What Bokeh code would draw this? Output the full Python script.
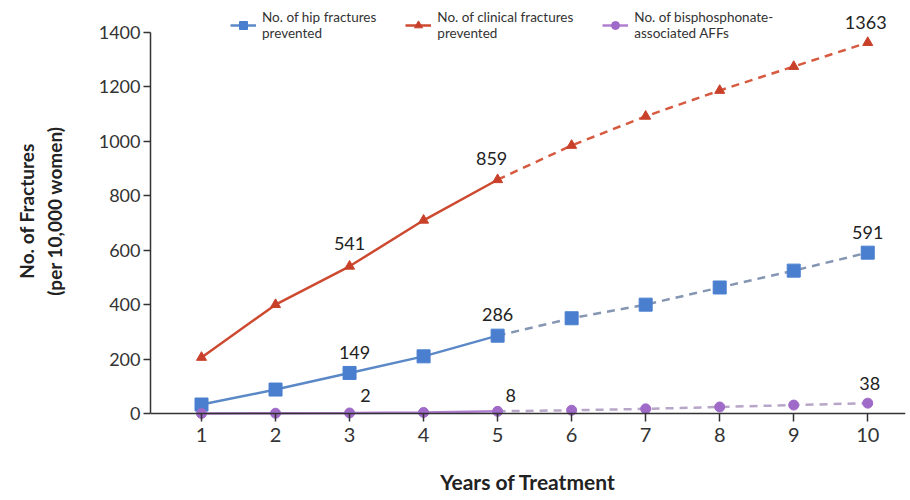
from bokeh.plotting import figure
from bokeh.models import Range1d, FixedTicker, Legend, LegendItem, ColumnDataSource, LabelSet, Span
from bokeh.core.properties import value
from bokeh.embed import file_html
from bokeh.resources import INLINE

years = [1, 2, 3, 4, 5, 6, 7, 8, 9, 10]
hip = [33, 88, 149, 210, 286, 350, 400, 463, 525, 591]
clinical = [206, 400, 541, 710, 859, 985, 1092, 1187, 1275, 1363]
aff = [0, 1, 2, 4, 8, 12, 17, 24, 31, 38]

label_x = [3, 5, 10, 3, 5, 10, 3, 5, 10]
label_y = [541, 859, 1363, 149, 286, 591, 2, 8, 38]
label_text = ["541", "859", "1363", "149", "286", "591", "2", "8", "38"]
y_ticks = [0, 200, 400, 600, 800, 1000, 1200, 1400]

# styling offsets for labels (screen px)
lx_off = [0, -6, -2, 5, 0, 0, 16, 13, 2]
ly_off = [23, 21, 20, 20, 21, 20, 17, 16, 20]

FONT = "Lato"

p = figure(width=910, height=500, output_backend="svg", toolbar_location=None,
           x_range=Range1d(0.311, 10.51), y_range=Range1d(-29.4, 1517.6),
           min_border_left=150, min_border_right=5, min_border_top=0, min_border_bottom=79)
p.outline_line_color = None
p.grid.visible = False
p.background_fill_color = "white"

# x axis line at zero
p.add_layout(Span(location=0, dimension="width", line_color="#333333", line_width=1.5))

n = 5
blue_solid = p.line(years[:n], hip[:n], line_color="#5b88c6", line_width=2.5)
p.line(years[n-1:], hip[n-1:], line_color="#8596b2", line_width=2.5, line_dash="8 6")
red_solid = p.line(years[:n], clinical[:n], line_color="#cd4a30", line_width=2.5)
p.line(years[n-1:], clinical[n-1:], line_color="#d65a40", line_width=2.5, line_dash="8 6")
pur_solid = p.line(years[:n], aff[:n], line_color="#b07fd0", line_width=2.5)
p.line(years[n-1:], aff[n-1:], line_color="#b8a6c8", line_width=2.5, line_dash="8 6")

blue_m = p.scatter(years, hip, marker="square", size=13, fill_color="#4a7fcf", line_color="#4a7fcf")
red_m = p.scatter(years, clinical, marker="triangle", size=10, fill_color="#c9402a", line_color="#c9402a")
pur_m = p.scatter(years, aff, marker="circle", size=10, fill_color="#a06ac8", line_color="#a06ac8")

src = ColumnDataSource(dict(x=label_x, y=label_y, t=label_text, xo=lx_off, yo=ly_off))
labels = LabelSet(x="x", y="y", text="t", x_offset="xo", y_offset="yo", source=src,
                  text_align="center", text_baseline="middle", text_font=value(FONT),
                  text_font_size=value("18px"), text_color=value("#222222"))
p.add_layout(labels)

# axes
xa = p.xaxis[0]
xa.ticker = FixedTicker(ticks=years)
xa.axis_line_color = None
xa.major_tick_out = 0
xa.major_tick_in = 8
xa.minor_tick_line_color = None
xa.major_tick_line_color = "#333333"
xa.major_tick_line_width = 1.5
xa.major_label_text_font = FONT
xa.major_label_text_font_size = "20px"
xa.major_label_text_color = "#333333"
xa.major_label_standoff = 6
xa.axis_label = "Years of Treatment"
xa.axis_label_text_font = FONT
xa.axis_label_text_font_style = "bold"
xa.axis_label_text_font_size = "21px"
xa.axis_label_text_color = "#222222"
xa.axis_label_standoff = 24

ya = p.yaxis[0]
ya.ticker = FixedTicker(ticks=y_ticks)
ya.bounds = (0, 1400)
ya.axis_line_color = "#333333"
ya.axis_line_width = 1.5
ya.major_tick_out = 7
ya.major_tick_in = 0
ya.minor_tick_line_color = None
ya.major_tick_line_color = "#333333"
ya.major_tick_line_width = 1.5
ya.major_label_text_font = FONT
ya.major_label_text_font_size = "18px"
ya.major_label_text_color = "#333333"
ya.major_label_standoff = 3
ya.axis_label = "No. of Fractures\n(per 10,000 women)"
ya.axis_label_text_font = FONT
ya.axis_label_text_font_style = "bold"
ya.axis_label_text_font_size = "19px"
ya.axis_label_text_color = "#222222"
ya.axis_label_standoff = 30

legend = Legend(items=[
    LegendItem(label="No. of hip fractures\nprevented", renderers=[blue_solid, blue_m]),
    LegendItem(label="No. of clinical fractures\nprevented", renderers=[red_solid, red_m]),
    LegendItem(label="No. of bisphosphonate-\nassociated AFFs", renderers=[pur_solid, pur_m]),
], orientation="horizontal", location=(80, 380), background_fill_alpha=0,
    border_line_color=None, label_text_font=FONT, label_text_font_size="13.5px",
    label_text_color="#333333", glyph_width=26, label_standoff=6, spacing=29,
    padding=2, margin=0)
p.add_layout(legend)

open("out.html", "w").write(file_html(p, INLINE))
